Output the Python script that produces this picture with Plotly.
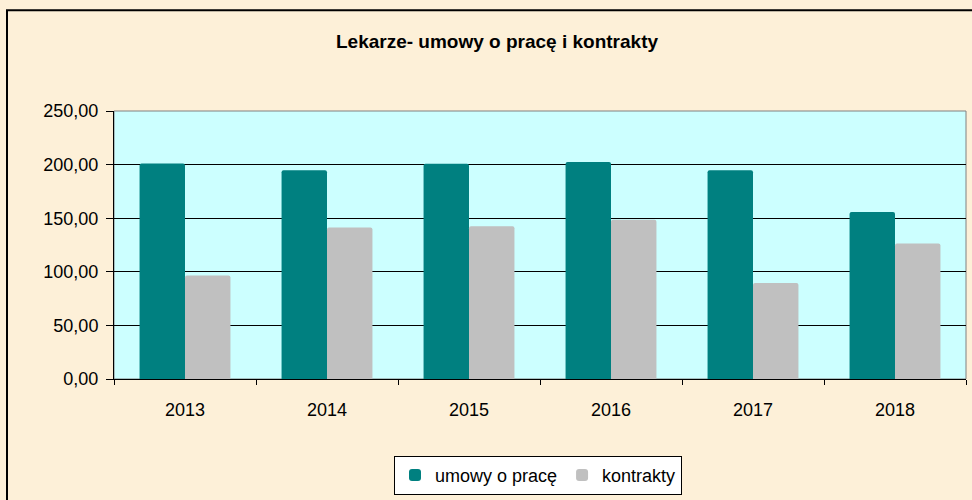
import plotly.graph_objects as go

years = ["2013", "2014", "2015", "2016", "2017", "2018"]
umowy = [201.0, 194.7, 200.8, 202.5, 194.7, 155.9]
kontrakty = [96.6, 141.4, 142.6, 148.5, 89.5, 126.5]
y_ticks = [0, 50, 100, 150, 200, 250]

W, H = 972, 500
L, R, T, B = 114, 966, 111, 382
pw, ph = R - L, B - T

def px(x):
    return (x - L) / pw

def py(y):
    return (B - y) / ph

fig = go.Figure()
fig.add_trace(go.Bar(x=years, y=umowy, name="umowy o pracę",
                     marker=dict(color="#008080", line=dict(width=0))))
fig.add_trace(go.Bar(x=years, y=kontrakty, name="kontrakty",
                     marker=dict(color="#C0C0C0", line=dict(width=0))))

font = "Liberation Sans, Arial, sans-serif"

fig.update_layout(
    width=W, height=H,
    margin=dict(l=L, r=W - R, t=T, b=H - B, pad=0),
    paper_bgcolor="#FDF0D8",
    plot_bgcolor="#CCFFFF",
    separators=",.",
    barmode="group",
    bargap=0.36,
    bargroupgap=0.0,
    barcornerradius=2,
    font=dict(family=font, size=18, color="#000000"),
    title=dict(text="<b>Lekarze- umowy o pracę i kontrakty</b>",
               x=px(497), xref="paper", xanchor="center",
               y=1 - 41 / H, yref="container", yanchor="middle",
               font=dict(size=19, family=font, color="#000000")),
    showlegend=True,
    legend=dict(orientation="h", x=px(538), xanchor="center",
                y=py(499), yanchor="bottom",
                bgcolor="#FFFFFF", bordercolor="#000000", borderwidth=1,
                font=dict(size=18, family=font), itemwidth=30,
                tracegroupgap=0, traceorder="normal"),
    xaxis=dict(type="category", showline=True, linecolor="#000000", linewidth=1,
               ticks="outside", tickson="boundaries", ticklen=5,
               tickcolor="#000000", showgrid=False, ticklabelstandoff=14,
               tickfont=dict(size=18, family=font)),
    yaxis=dict(range=[0, 250], tickvals=y_ticks, tickformat=".2f",
               showline=True, linecolor="#000000", linewidth=1,
               ticks="outside", ticklen=7, tickcolor="#000000",
               showgrid=True, gridcolor="#000000", gridwidth=1,
               ticklabelstandoff=4,
               zeroline=False, tickfont=dict(size=18, family=font)),
    shapes=[
        dict(type="rect", xref="paper", yref="paper",
             x0=0, x1=1, y0=0, y1=1, line=dict(color="#808080", width=1),
             layer="below"),
        dict(type="rect", xref="paper", yref="paper",
             x0=px(7), x1=px(990), y0=py(9), y1=py(520),
             line=dict(color="#000000", width=2)),
    ],
)

fig.write_html("out.html",
               config={"displayModeBar": False},
               post_script="document.body.style.margin='0';document.body.style.overflow='hidden';")
